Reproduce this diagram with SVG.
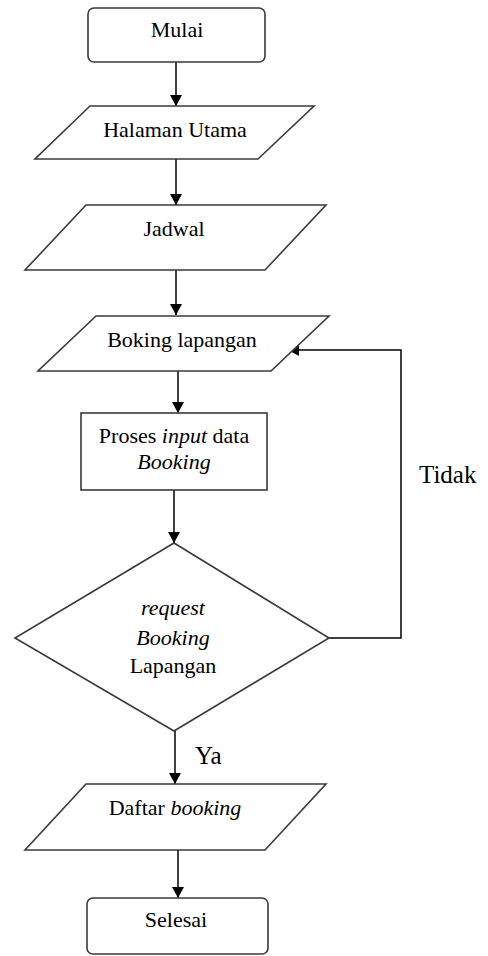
<svg xmlns="http://www.w3.org/2000/svg" width="488" height="956" viewBox="0 0 488 956">
<defs>
<marker id="arr" markerUnits="userSpaceOnUse" markerWidth="11" markerHeight="12" refX="11" refY="6" orient="auto">
<path d="M0,0 L11,6 L0,12 z" fill="#000"/>
</marker>
<style>
.shape{fill:#fff;stroke:#3a3a3a;stroke-width:1.6}
.conn{fill:none;stroke:#000;stroke-width:1.5}
.t{font-family:"Liberation Serif","Times New Roman",serif;font-size:22px;fill:#000;text-anchor:middle}
.lbl{font-family:"Liberation Serif","Times New Roman",serif;font-size:25px;fill:#000}
.i{font-style:italic}
</style>
</defs>
<rect width="488" height="956" fill="#fff"/>
<g id="connectors">
<line class="conn" x1="176" y1="62" x2="176" y2="106" marker-end="url(#arr)"/>
<line class="conn" x1="176" y1="159" x2="176" y2="205" marker-end="url(#arr)"/>
<line class="conn" x1="176" y1="270" x2="176" y2="315" marker-end="url(#arr)"/>
<line class="conn" x1="178" y1="371" x2="178" y2="413" marker-end="url(#arr)"/>
<line class="conn" x1="174" y1="490" x2="174" y2="543" marker-end="url(#arr)"/>
<polyline class="conn" points="329,638 401,638 401,350 288,350" marker-end="url(#arr)"/>
<line class="conn" x1="175" y1="731" x2="175" y2="784" marker-end="url(#arr)"/>
<line class="conn" x1="178" y1="850" x2="178" y2="898" marker-end="url(#arr)"/>
<text class="lbl" x="419" y="483">Tidak</text>
<text class="lbl" x="195" y="764">Ya</text>
</g>
<g id="mulai">
<rect class="shape" x="88" y="8" width="177" height="54" rx="6"/>
<text class="t" x="177" y="37">Mulai</text>
</g>
<g id="halaman">
<polygon class="shape" points="90,106 314,106 258,159 35,159"/>
<text class="t" x="175" y="137">Halaman Utama</text>
</g>
<g id="jadwal">
<polygon class="shape" points="86,205 326,205 265,270 25,270"/>
<text class="t" x="174" y="236">Jadwal</text>
</g>
<g id="boking">
<polygon class="shape" points="96,316 329,316 271,371 38,371"/>
<text class="t" x="182" y="347">Boking lapangan</text>
</g>
<g id="proses">
<rect class="shape" x="81" y="413" width="186" height="77"/>
<text class="t" x="174" y="443">Proses <tspan class="i">input</tspan> data</text>
<text class="t i" x="174" y="469">Booking</text>
</g>
<g id="request">
<polygon class="shape" points="174,543 329,638 174,731 15,638"/>
<text class="t i" x="173" y="615">request</text>
<text class="t i" x="173" y="645">Booking</text>
<text class="t" x="173" y="673">Lapangan</text>
</g>
<g id="daftar">
<polygon class="shape" points="86,784 326,784 265,850 25,850"/>
<text class="t" x="175" y="815">Daftar <tspan class="i">booking</tspan></text>
</g>
<g id="selesai">
<rect class="shape" x="87" y="898" width="181" height="56" rx="6"/>
<text class="t" x="176" y="927">Selesai</text>
</g>
</svg>
